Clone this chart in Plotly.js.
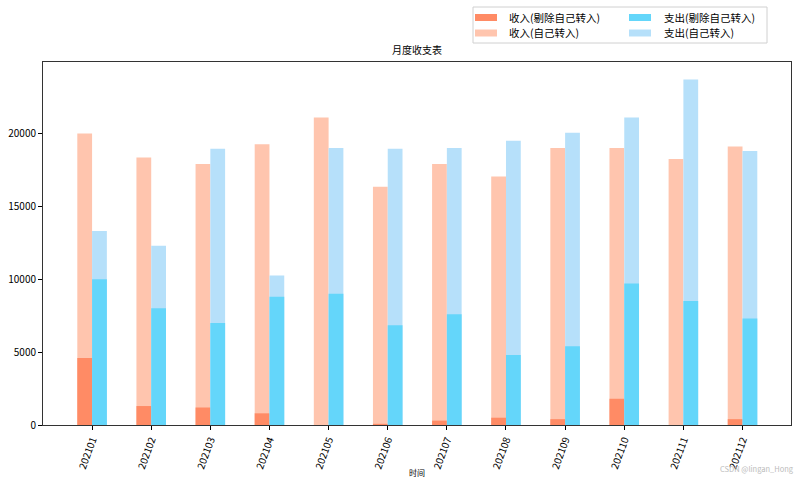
<!DOCTYPE html>
<html>
<head>
<meta charset="utf-8">
<script src="https://cdn.plot.ly/plotly-3.0.1.min.js"></script>
<style>html,body{margin:0;padding:0;background:#fff;}#chart{width:800px;height:480px;}</style>
</head>
<body>
<div id="chart"></div>
<script>
const months = ['202101','202102','202103','202104','202105','202106','202107','202108','202109','202110','202111','202112'];
const incomeAll = [20000,18350,17900,19250,21100,16350,17900,17050,19000,19000,18250,19100];
const incomeNet = [4600,1300,1200,800,0,80,300,500,400,1800,0,400];
const expenseAll = [13300,12300,18950,10250,19000,18950,19000,19500,20050,21100,23700,18800];
const expenseNet = [10000,8000,7000,8800,9000,6850,7600,4800,5400,9700,8500,7300];
const seriesNames = ['收入(剔除自己转入)','收入(自己转入)','支出(剔除自己转入)','支出(自己转入)'];
const seriesColors = ['#FF8B65','#FFC5AE','#64D6FA','#B6E0FA'];

const FONT = '"Noto Sans CJK SC", "DejaVu Sans", sans-serif';
const W = 0.25;

function bar(i, y, off) {
  return {type:'bar', name:seriesNames[i], x:months, y:y, width:W, offset:off,
          marker:{color:seriesColors[i], line:{width:0}}, showlegend:false, hoverinfo:'x+y'};
}

const data = [
  bar(1, incomeAll, -W),
  bar(3, expenseAll, 0),
  bar(0, incomeNet, -W),
  bar(2, expenseNet, 0)
];

// plot area in pixels: left 43, right 791, top 62, bottom 425
const PL = 43, PR = 791, PT = 62, PB = 425;
const px = v => (v - PL) / (PR - PL);
const py = v => (PB - v) / (PB - PT);

const shapes = [
  {type:'rect', xref:'paper', yref:'paper', x0:px(473), x1:px(767), y0:py(43), y1:py(7),
   line:{color:'#d0d0d0', width:1}, fillcolor:'rgba(255,255,255,0.8)', layer:'above'}
];
const annotations = [];
const cols = [[475, 508], [629, 663]];
const rows = [17.5, 33];
for (let i = 0; i < 4; i++) {
  const c = cols[Math.floor(i / 2)], r = rows[i % 2];
  shapes.push({type:'rect', xref:'paper', yref:'paper', x0:px(c[0]), x1:px(c[0] + 22), y0:py(r + 3.5), y1:py(r - 3.5),
               line:{width:0}, fillcolor:seriesColors[i], layer:'above'});
  annotations.push({text:seriesNames[i], xref:'paper', yref:'paper', x:px(c[1]), y:py(r), xanchor:'left', yanchor:'middle',
                    showarrow:false, borderpad:0, font:{family:FONT, size:10.5, color:'#000'}});
}
annotations.push({text:'CSDN @lingan_Hong', xref:'paper', yref:'paper', x:px(795), y:py(468), xanchor:'right', yanchor:'middle',
                  showarrow:false, borderpad:0, font:{family:FONT, size:7.5, color:'#bbb'}});

const layout = {
  width:800, height:480,
  margin:{l:PL, r:800 - PR, t:PT, b:480 - PB},
  paper_bgcolor:'#fff', plot_bgcolor:'#fff',
  barmode:'overlay',
  showlegend:false,
  font:{family:FONT, size:10, color:'#000'},
  title:{text:'月度收支表', x:0.5, xref:'paper', y:1, yref:'paper', yanchor:'bottom', pad:{b:8}, font:{family:FONT, size:10, color:'#000'}},
  xaxis:{type:'category', range:[-0.83, 11.82], tickangle:-70, ticks:'outside', ticklen:4, tickcolor:'#000',
         showline:true, linecolor:'#333', linewidth:1, mirror:true, showgrid:false, zeroline:false,
         tickfont:{family:FONT, size:10, color:'#000'},
         title:{text:'时间', font:{family:FONT, size:8, color:'#000'}, standoff:0}},
  yaxis:{range:[0, 24900], tickvals:[0,5000,10000,15000,20000], tickformat:'d', ticks:'outside', ticklen:4, tickcolor:'#000',
         showline:true, linecolor:'#333', linewidth:1, mirror:true, showgrid:false, zeroline:false,
         tickfont:{family:FONT, size:10, color:'#000'}},
  shapes:shapes,
  annotations:annotations
};

Plotly.newPlot('chart', data, layout, {displayModeBar:false, staticPlot:true});
</script>
</body>
</html>
